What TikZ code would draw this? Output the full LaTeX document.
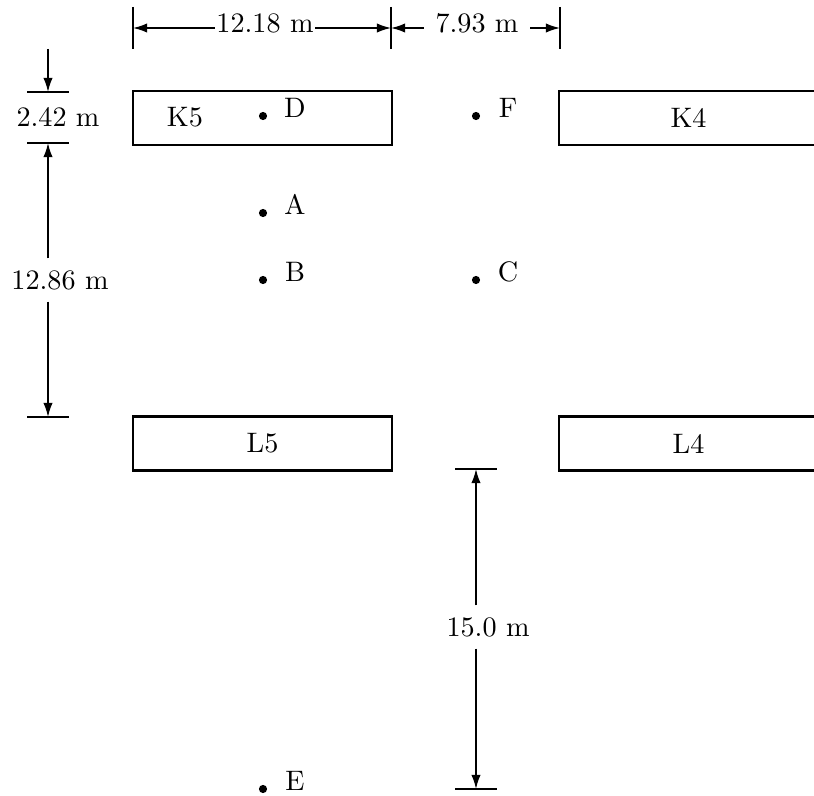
\documentclass[tikz,border=0pt]{standalone}
\usetikzlibrary{arrows.meta}
\begin{document}
\begin{tikzpicture}[x=0.355pt,y=-0.355pt,
  box/.style={draw,line width=0.75pt,minimum width=91.9pt,minimum height=19.2pt,inner sep=0pt},
  dot/.style={circle,fill,inner sep=0pt,minimum size=2.9pt},
  lbl/.style={inner sep=0pt},
  tick/.style={line width=0.7pt},
  dimarrow/.style={line width=0.55pt,-{Latex[length=5pt,width=3.3pt]}},
  vdimtxt/.style={inner xsep=0pt,inner ysep=4pt},
]
\clip (0,0) rectangle (814,796);
% boxes
\node[box] (K5) at (262.5,118) {};
\node[lbl] (K5t) at (185,117) {K5};
\node[box] (K4) at (688.5,118) {K4};
\node[box] (L5) at (262.5,443.5) {L5};
\node[box] (L4) at (688.5,443.5) {L4};
% points
\node[dot] (D) at (263,116) {};
\node[lbl] (Dt) at (295,108) {D};
\node[dot] (F) at (476,116) {};
\node[lbl] (Ft) at (508,108) {F};
\node[dot] (A) at (263,213) {};
\node[lbl] (At) at (295,204) {A};
\node[dot] (B) at (263,280) {};
\node[lbl] (Bt) at (295,272) {B};
\node[dot] (C) at (476,280) {};
\node[lbl] (Ct) at (508,272) {C};
\node[dot] (E) at (263,789) {};
\node[lbl] (Et) at (295,781) {E};
% top dimensions
\coordinate (t1a) at (133,7); \coordinate (t1b) at (133,49);
\coordinate (t2a) at (391,7); \coordinate (t2b) at (391,49);
\coordinate (t3a) at (560,7); \coordinate (t3b) at (560,49);
\draw[tick] (t1a) -- (t1b);
\draw[tick] (t2a) -- (t2b);
\draw[tick] (t3a) -- (t3b);
\coordinate (h1) at (133,28);
\coordinate (h2) at (391,28);
\coordinate (h3) at (560,28);
\node[inner xsep=0.5pt,inner ysep=0pt] (d1) at (265,23) {12.18 m};
\draw[dimarrow] (d1.west |- h1) -- (h1);
\draw[dimarrow] (d1.east |- h2) -- (h2);
\node[inner xsep=4pt,inner ysep=0pt] (d2) at (477,23) {7.93 m};
\draw[dimarrow] (d2.west |- h2) -- (h2);
\draw[dimarrow] (d2.east |- h3) -- (h3);
% left dimensions
\coordinate (k1a) at (27,92); \coordinate (k1b) at (69,92);
\coordinate (k2a) at (27,143); \coordinate (k2b) at (69,143);
\coordinate (k3a) at (27,417); \coordinate (k3b) at (69,417);
\draw[tick] (k1a) -- (k1b);
\draw[tick] (k2a) -- (k2b);
\draw[tick] (k3a) -- (k3b);
\coordinate (v0) at (48,49);
\coordinate (v1) at (48,92);
\coordinate (v2) at (48,143);
\coordinate (v3) at (48,417);
\draw[dimarrow] (v0) -- (v1);
\node[lbl] (d3) at (58,117) {2.42 m};
\node[vdimtxt] (d4) at (60,280) {12.86 m};
\draw[dimarrow] (v2 |- d4.north) -- (v2);
\draw[dimarrow] (v3 |- d4.south) -- (v3);
% lower dimension
\coordinate (m1a) at (455,469); \coordinate (m1b) at (497,469);
\coordinate (m2a) at (455,789); \coordinate (m2b) at (497,789);
\draw[tick] (m1a) -- (m1b);
\draw[tick] (m2a) -- (m2b);
\coordinate (w1) at (476,469);
\coordinate (w2) at (476,789);
\node[vdimtxt] (d5) at (488,627) {15.0 m};
\draw[dimarrow] (w1 |- d5.north) -- (w1);
\draw[dimarrow] (w2 |- d5.south) -- (w2);
\end{tikzpicture}
\end{document}
